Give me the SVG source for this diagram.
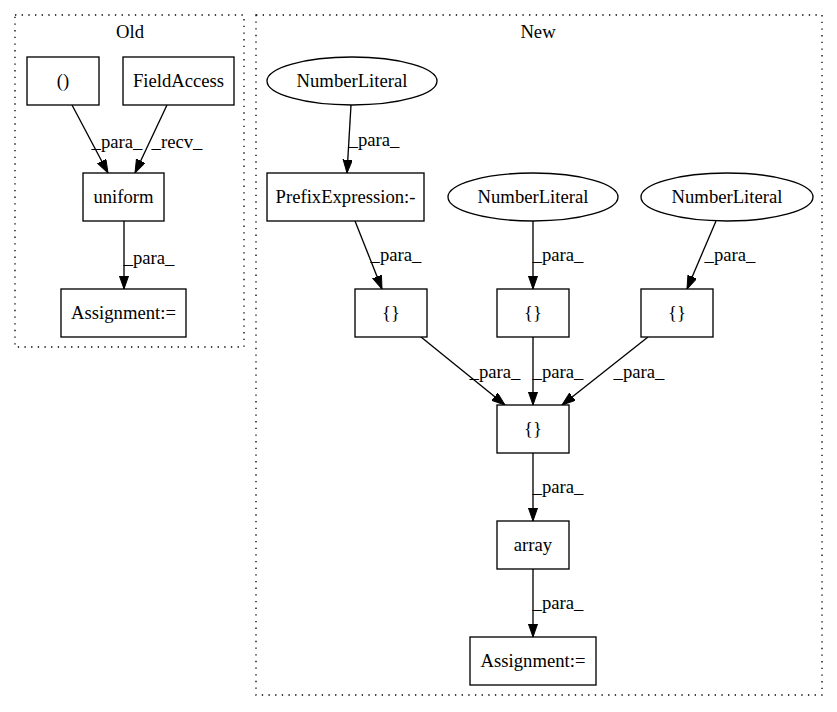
<svg xmlns="http://www.w3.org/2000/svg" width="837" height="712" viewBox="0 0 837 712">
<defs>
<marker id="arr" markerUnits="userSpaceOnUse" markerWidth="14" markerHeight="10" refX="13.3" refY="4.67" orient="auto">
<path d="M0,0 L13.3,4.67 L0,9.33 z" fill="#000" stroke="#000" stroke-width="1"/>
</marker>
</defs>
<style>
text{font-family:"Liberation Serif","Times New Roman",serif;font-size:18.67px;fill:#000}
.n{text-anchor:middle}
.box{fill:#fff;stroke:#000;stroke-width:1.33}
.cl{fill:none;stroke:#000;stroke-width:1.33;stroke-dasharray:1.33,5.33}
.e{fill:none;stroke:#000;stroke-width:1.33;marker-end:url(#arr)}
.lb{text-anchor:middle}
</style>
<rect width="837" height="712" fill="#fff"/>
<g id="cluster_old">
<rect class="cl" x="15" y="15" width="229" height="332"/>
<text class="n" x="130" y="38">Old</text>
</g>
<g id="cluster_new">
<rect class="cl" x="256" y="15" width="566" height="680"/>
<text class="n" x="538" y="38">New</text>
</g>
<g id="connectors">
<line class="e" x1="72" y1="105" x2="108" y2="173"/>
<text class="lb" x="117" y="148">_para_</text>
<line class="e" x1="167" y1="105" x2="135" y2="173"/>
<text class="lb" x="177" y="148">_recv_</text>
<line class="e" x1="124" y1="221" x2="124" y2="289"/>
<text class="lb" x="149" y="264">_para_</text>
<line class="e" x1="351" y1="105" x2="347" y2="173"/>
<text class="lb" x="374" y="146">_para_</text>
<line class="e" x1="355" y1="221" x2="382" y2="289"/>
<text class="lb" x="396" y="261">_para_</text>
<line class="e" x1="533" y1="221" x2="533" y2="289"/>
<text class="lb" x="558" y="261">_para_</text>
<line class="e" x1="716" y1="221" x2="687" y2="289"/>
<text class="lb" x="730" y="261">_para_</text>
<line class="e" x1="421" y1="337" x2="505" y2="405"/>
<text class="lb" x="495" y="378">_para_</text>
<line class="e" x1="533" y1="337" x2="533" y2="405"/>
<text class="lb" x="558" y="378">_para_</text>
<line class="e" x1="648" y1="337" x2="562" y2="405"/>
<text class="lb" x="639" y="378">_para_</text>
<line class="e" x1="533" y1="453" x2="533" y2="521"/>
<text class="lb" x="558" y="493">_para_</text>
<line class="e" x1="533" y1="569" x2="533" y2="637"/>
<text class="lb" x="558" y="609">_para_</text>
</g>
<g id="n_paren"><rect class="box" x="27" y="57" width="72" height="48"/><text class="n" x="63" y="87">()</text></g>
<g id="n_fieldaccess"><rect class="box" x="123" y="57" width="111" height="48"/><text class="n" x="178.5" y="87">FieldAccess</text></g>
<g id="n_uniform"><rect class="box" x="83" y="173" width="81" height="48"/><text class="n" x="123.5" y="203">uniform</text></g>
<g id="n_assign_old"><rect class="box" x="61" y="289" width="125" height="48"/><text class="n" x="123.5" y="319">Assignment:=</text></g>
<g id="n_num1"><ellipse class="box" cx="352" cy="81" rx="85" ry="24"/><text class="n" x="352" y="87">NumberLiteral</text></g>
<g id="n_prefix"><rect class="box" x="267" y="173" width="157" height="48"/><text class="n" x="345.5" y="203">PrefixExpression:-</text></g>
<g id="n_num2"><ellipse class="box" cx="533" cy="197" rx="85" ry="24"/><text class="n" x="533" y="203">NumberLiteral</text></g>
<g id="n_num3"><ellipse class="box" cx="727" cy="197" rx="86" ry="24"/><text class="n" x="727" y="203">NumberLiteral</text></g>
<g id="n_brace1"><rect class="box" x="355" y="289" width="72" height="48"/><text class="n" x="391" y="319">{}</text></g>
<g id="n_brace2"><rect class="box" x="497" y="289" width="72" height="48"/><text class="n" x="533" y="319">{}</text></g>
<g id="n_brace3"><rect class="box" x="641" y="289" width="72" height="48"/><text class="n" x="677" y="319">{}</text></g>
<g id="n_brace_c"><rect class="box" x="497" y="405" width="72" height="48"/><text class="n" x="533" y="435">{}</text></g>
<g id="n_array"><rect class="box" x="497" y="521" width="72" height="48"/><text class="n" x="533" y="551">array</text></g>
<g id="n_assign_new"><rect class="box" x="470" y="637" width="126" height="48"/><text class="n" x="533" y="667">Assignment:=</text></g>
</svg>
